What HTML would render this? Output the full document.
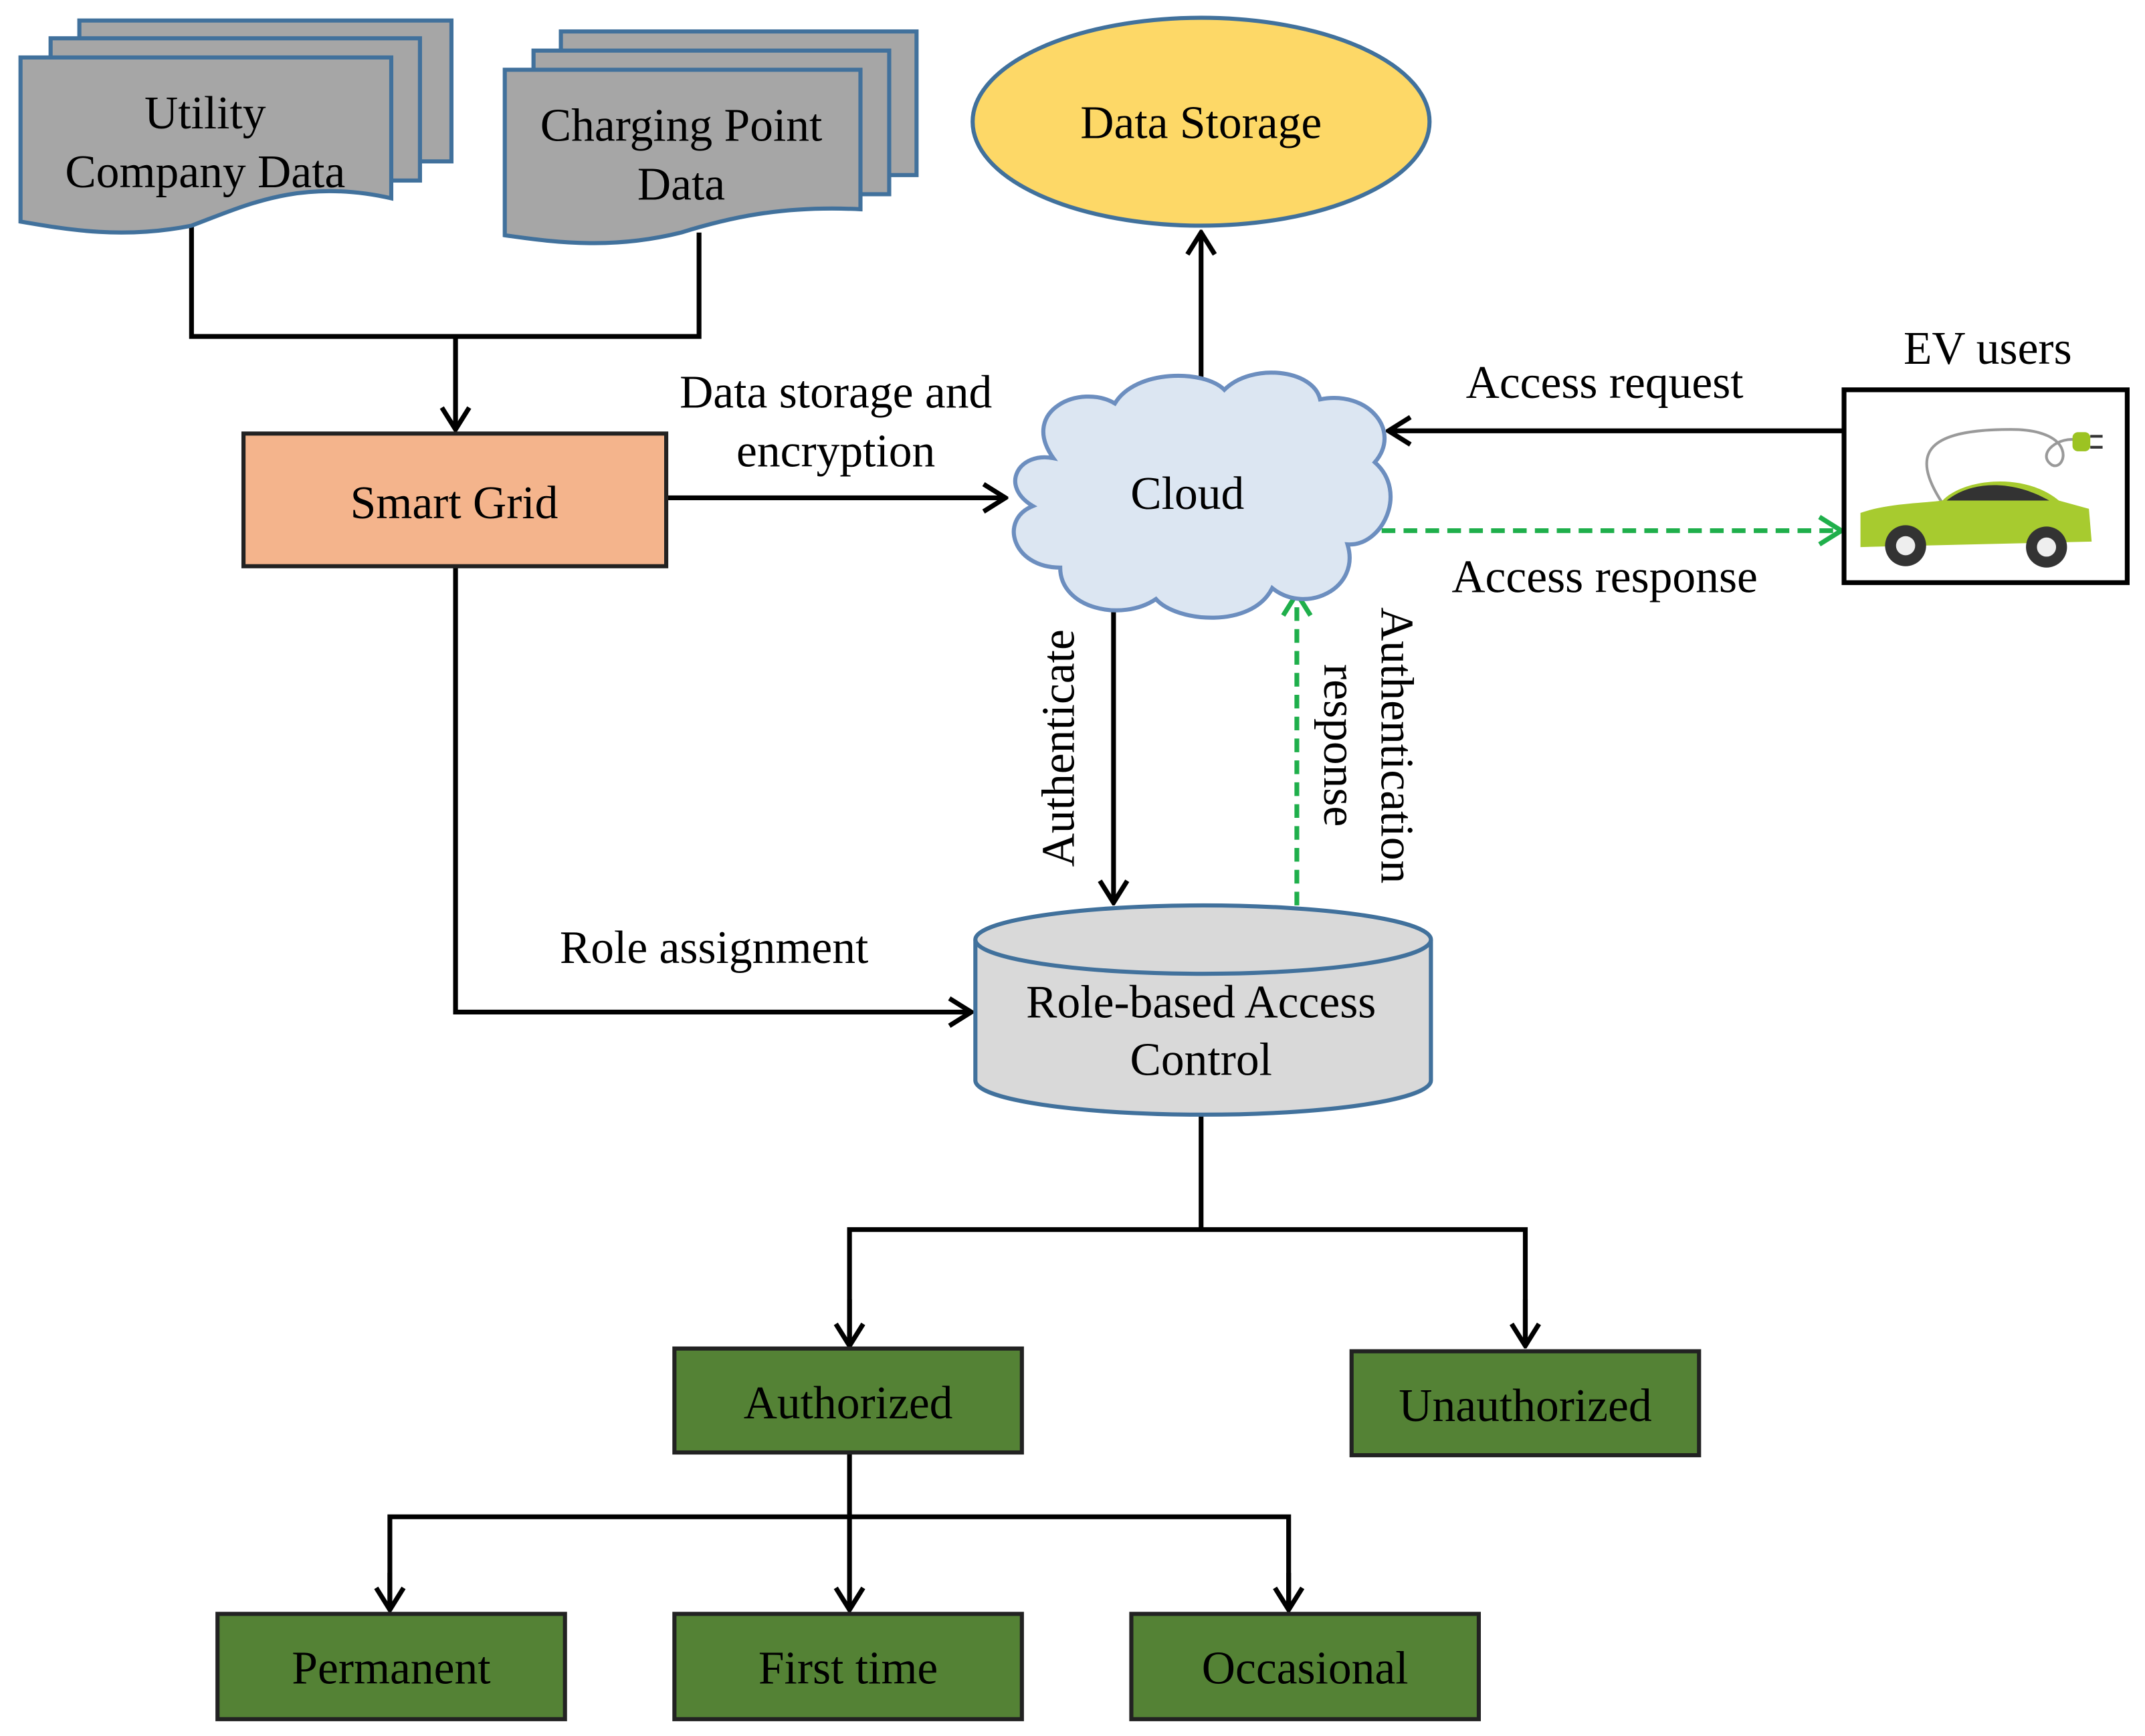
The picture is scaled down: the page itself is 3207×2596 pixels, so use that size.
<!DOCTYPE html>
<html><head><meta charset="utf-8"><style>
html,body{margin:0;padding:0;background:#fff;}
svg{display:block;}
text{font-family:"Liberation Serif",serif;font-size:34px;fill:#000;}
</style></head><body>
<svg width="3207" height="2596" viewBox="0 0 1568 1269.3" preserveAspectRatio="none" xmlns="http://www.w3.org/2000/svg">
<defs>
<marker id="ab" markerWidth="22" markerHeight="24" refX="20" refY="12" orient="auto" markerUnits="userSpaceOnUse" viewBox="0 0 22 24">
<path d="M4,2 L20,12 L4,22" fill="none" stroke="#000" stroke-width="3.5"/></marker>
<marker id="ag" markerWidth="22" markerHeight="24" refX="20" refY="12" orient="auto" markerUnits="userSpaceOnUse" viewBox="0 0 22 24">
<path d="M4,2 L20,12 L4,22" fill="none" stroke="#1FAF4B" stroke-width="3.5"/></marker>
</defs>
<g fill="none" stroke="#000" stroke-width="3.5">
<polyline points="140,165 140,246 511,246 511,170"/>
<line x1="333" y1="246" x2="333" y2="314" marker-end="url(#ab)"/>
<line x1="487" y1="364" x2="735" y2="364" marker-end="url(#ab)"/>
<line x1="878" y1="282" x2="878" y2="170" marker-end="url(#ab)"/>
<line x1="1348" y1="315" x2="1015" y2="315" marker-end="url(#ab)"/>
<line x1="814" y1="445" x2="814" y2="660" marker-end="url(#ab)"/>
<polyline points="333,414 333,740 710,740" marker-end="url(#ab)"/>
<polyline points="878,815 878,899"/>
<polyline points="621,984 621,899 1115,899 1115,984"/>
<line x1="621" y1="950" x2="621" y2="984" marker-end="url(#ab)"/>
<line x1="1115" y1="950" x2="1115" y2="984" marker-end="url(#ab)"/>
<polyline points="621,1062 621,1109"/>
<polyline points="285,1177 285,1109 942,1109 942,1177"/>
<line x1="285" y1="1150" x2="285" y2="1177" marker-end="url(#ab)"/>
<line x1="621" y1="1109" x2="621" y2="1177" marker-end="url(#ab)"/>
<line x1="942" y1="1150" x2="942" y2="1177" marker-end="url(#ab)"/>
</g>
<g fill="none" stroke="#1FAF4B" stroke-width="3.5" stroke-dasharray="10,6">
<line x1="1010" y1="388" x2="1346" y2="388" marker-end="url(#ag)"/>
<line x1="948" y1="662" x2="948" y2="434" marker-end="url(#ag)"/>
</g>
<g fill="#A6A6A6" stroke="#41719C" stroke-width="3">
<rect x="58" y="15" width="272" height="103"/>
<rect x="37" y="28" width="270" height="104"/>
<path d="M15,42 H286 V145 C220,130 180,150 140,165 C90,175 50,168 15,162 Z"/>
<rect x="410" y="23" width="260" height="105"/>
<rect x="390" y="37" width="260" height="105"/>
<path d="M369,51 H629 V153 C570,150 530,160 498,170 C450,182 410,178 369,172 Z"/>
</g>
<text x="150" y="94" text-anchor="middle">Utility</text>
<text x="150" y="137" text-anchor="middle">Company Data</text>
<text x="498" y="103" text-anchor="middle">Charging Point</text>
<text x="498" y="146" text-anchor="middle">Data</text>
<rect x="178" y="317" width="309" height="97" fill="#F4B48C" stroke="#222" stroke-width="3"/>
<text x="332" y="379" text-anchor="middle">Smart Grid</text>
<text x="611" y="298" text-anchor="middle">Data storage and</text>
<text x="611" y="341" text-anchor="middle">encryption</text>
<ellipse cx="878" cy="89" rx="167" ry="76" fill="#FDD867" stroke="#41719C" stroke-width="3"/>
<text x="878" y="101" text-anchor="middle">Data Storage</text>
<path d="M770,335 C745,300 790,280 815,295 C830,270 880,270 895,285 C915,265 960,270 965,292 C1000,285 1025,315 1005,338 C1030,360 1010,400 985,398 C995,430 955,450 930,430 C915,460 860,455 845,438 C820,455 775,445 775,415 C740,415 730,380 755,370 C730,355 745,330 770,335 Z" fill="#DCE6F2" stroke="#6C8EBF" stroke-width="3"/>
<text x="868" y="372" text-anchor="middle">Cloud</text>
<text x="1173" y="291" text-anchor="middle">Access request</text>
<text x="1453" y="266" text-anchor="middle">EV users</text>
<text x="1173" y="433" text-anchor="middle">Access response</text>
<rect x="1348" y="285" width="207" height="141" fill="#fff" stroke="#000" stroke-width="3.5"/>
<path d="M1420,368 C1395,330 1410,314 1470,314 C1520,314 1510,345 1500,340 C1488,332 1505,318 1520,322" fill="none" stroke="#999" stroke-width="2"/>
<rect x="1515" y="316" width="13" height="14" rx="4" fill="#9CC322"/>
<line x1="1528" y1="319" x2="1537" y2="319" stroke="#333" stroke-width="2"/>
<line x1="1528" y1="327" x2="1537" y2="327" stroke="#333" stroke-width="2"/>
<path d="M1360,375 C1380,368 1405,368 1420,366 C1435,350 1480,345 1505,366 L1527,372 L1529,396 L1360,400 Z" fill="#A7CB2F"/>
<path d="M1423,366 C1440,352 1470,350 1498,366 Z" fill="#333"/>
<circle cx="1393" cy="399" r="15" fill="#333"/><circle cx="1393" cy="399" r="7" fill="#eee"/>
<circle cx="1496" cy="400" r="15" fill="#333"/><circle cx="1496" cy="400" r="7" fill="#eee"/>
<text transform="translate(785,547) rotate(-90)" text-anchor="middle">Authenticate</text>
<text transform="translate(1010,545) rotate(90)" text-anchor="middle">Authentication</text>
<text transform="translate(968,545) rotate(90)" text-anchor="middle">response</text>
<path d="M713,687 V790 A166.5,25 0 0 0 1046,790 V687" fill="#D9D9D9" stroke="#41719C" stroke-width="3"/>
<ellipse cx="879.5" cy="687" rx="166.5" ry="25" fill="#D9D9D9" stroke="#41719C" stroke-width="3"/>
<text x="878" y="744" text-anchor="middle">Role-based Access</text>
<text x="878" y="786" text-anchor="middle">Control</text>
<text x="522" y="704" text-anchor="middle">Role assignment</text>
<g fill="#548235" stroke="#222" stroke-width="3">
<rect x="493" y="986" width="254" height="76"/>
<rect x="988" y="988" width="254" height="76"/>
<rect x="159" y="1180" width="254" height="77"/>
<rect x="493" y="1180" width="254" height="77"/>
<rect x="827" y="1180" width="254" height="77"/>
</g>
<text x="620" y="1037" text-anchor="middle">Authorized</text>
<text x="1115" y="1039" text-anchor="middle">Unauthorized</text>
<text x="286" y="1231" text-anchor="middle">Permanent</text>
<text x="620" y="1231" text-anchor="middle">First time</text>
<text x="954" y="1231" text-anchor="middle">Occasional</text>
</svg>
</body></html>
